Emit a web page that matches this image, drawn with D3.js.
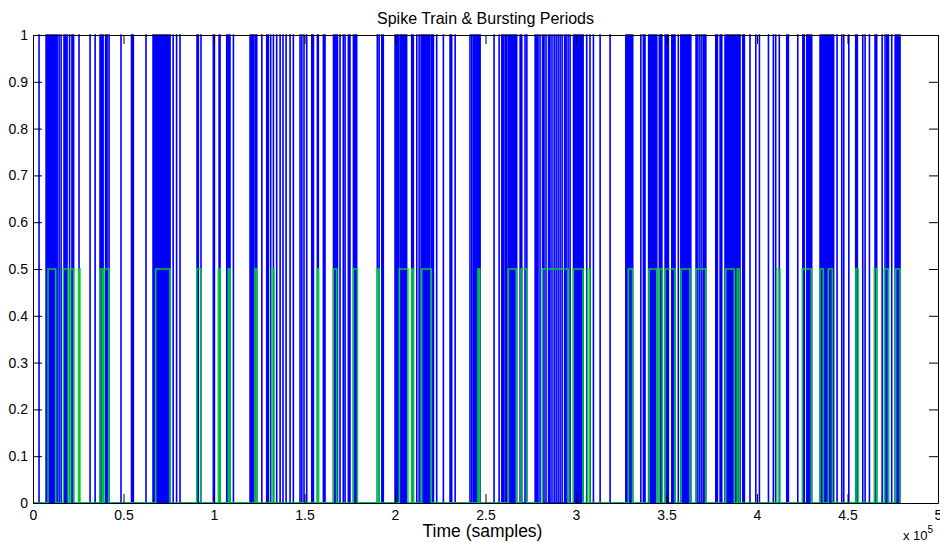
<!DOCTYPE html>
<html>
<head>
<meta charset="utf-8">
<script src="https://cdn.jsdelivr.net/npm/d3@7"></script>
<style>
  html, body { margin: 0; padding: 0; background: #fff; }
  svg { display: block; }
  text { font-family: "Liberation Sans", Arial, Helvetica, sans-serif; fill: #000; }
</style>
</head>
<body>
<svg id="chart" width="940" height="542"></svg>
<script>
// ---- data (time in samples) ----
const title = "Spike Train & Bursting Periods";
const xLabel = "Time (samples)";
const signalEnd = 479500;

const spikeTimes = [
  3300, 7200, 8000, 8800, 9400, 9900, 10500, 11300, 11900, 12400, 13300, 14400, 15500,
  17100, 18000, 18800, 20200, 21500, 22400, 25400, 31500, 34300, 37000, 37800, 38700,
  40100, 40900, 42000, 48600, 54400, 54900, 55400, 62400,
  66300, 66900, 67400, 68000, 68500, 69100, 69600, 70200, 70700, 71300, 71800, 72400,
  72900, 73500, 74000, 74600, 75100, 75700, 77400, 79300, 81200,
  90600, 91300, 92800, 99600, 100200, 102800, 103300, 107000, 107900, 108800, 110700,
  119900, 120800, 121700, 122700, 123600, 126400, 129100, 130000, 131300, 132800,
  134600, 136500, 138100, 139800, 142000, 143800, 147500, 148500, 149700, 151200,
  154000, 154900, 157100, 157600, 160400, 161300, 166000, 166600, 167100, 167700,
  168200, 169600, 171400, 172400, 174200, 175100, 177000, 177600, 178200, 178800,
  190200, 191200, 192700, 193500, 200000, 200600, 201100, 201800, 202800, 203300,
  203900, 204400, 205000, 205500, 206400, 209200, 210100, 212000, 213300, 214400,
  214900, 215500, 216000, 216600, 217100, 217700, 218400, 219300, 220300, 221200,
  223000, 226700, 230400, 231300, 233200, 241400, 242400, 243400, 243900, 244500,
  245000, 245600, 246100, 247000, 254700, 257500, 259000, 259800, 260800, 261700,
  262700, 263300, 263800, 264400, 264900, 265500, 266000, 266600, 267200, 269100,
  270000, 271800, 272800, 277400, 278300, 279000, 280100, 281500, 282300, 283400,
  284800, 285600, 286700, 287900, 289000, 290100, 291200, 292300, 293700, 294500,
  295600, 296700, 298600, 299200, 299700, 300300, 300800, 301400, 301900, 302500,
  303000, 303900, 305900, 307700, 309600, 313300, 318800,
  327500, 327900, 328500, 329000, 329600, 330100, 330700, 331300, 335800, 337200,
  338100, 340100, 340600, 341200, 341700, 342300, 342800, 343700, 344600, 346000,
  346700, 347400, 349200, 349700, 350300, 351000, 352900, 353800, 354700, 356500,
  357900, 358400, 359000, 359500, 360100, 360600, 361200, 361700, 362300, 362800,
  363400, 366300, 366900, 368000, 369100, 370200, 371000, 371700, 377200, 378100,
  379600, 380500, 382300, 382900, 383400, 384000, 384500, 385100, 385600, 386200,
  386800, 387300, 387900, 388800, 389700, 390600, 392100, 393000, 396100, 399300,
  401300, 406300, 409000, 410300, 412300, 416400, 417300, 422500, 425300, 426100,
  427500, 428400, 429300, 430200, 434800, 435600, 436500, 437300, 438100, 439000,
  439800, 440600, 441400, 442300, 444200, 446800, 447900, 450700, 454500, 455400,
  458400, 459700, 462100, 465200, 466100, 469100, 470700, 471700, 472600, 474400,
  476300, 476800, 477400, 477900, 478500, 479000
];

const burstStart = [
  8290, 16740, 20440, 25140, 37020, 39230, 67790, 90440, 102380, 107900, 122650, 131880,
  157070, 165910, 176960, 190220, 202380, 209220, 214750, 245860, 262600, 269610,
  281500, 298510, 306350, 328890, 340330, 346020, 349170, 358020, 366300, 382710,
  389120, 410880, 425030, 434810, 439390, 454700, 464810, 470330, 476630
];
const burstEnd = [
  12540, 19500, 22490, 25970, 38290, 41990, 75690, 92820, 103320, 108840, 123590, 133150,
  157740, 167790, 179280, 191160, 207180, 210220, 220060, 246800, 267020, 272930,
  295750, 303870, 307460, 331220, 344590, 347680, 354700, 362990, 371660, 387460,
  390230, 412710, 430000, 436640, 441600, 455970, 466140, 472540, 479010
];
const burstLevel = 0.5;

const xTicks = [0, 50000, 100000, 150000, 200000, 250000, 300000, 350000, 400000, 450000, 500000];
const xTickLabels = ["0", "0.5", "1", "1.5", "2", "2.5", "3", "3.5", "4", "4.5", "5"];
const yTicks = [0, 0.1, 0.2, 0.3, 0.4, 0.5, 0.6, 0.7, 0.8, 0.9, 1];
const yTickLabels = ["0", "0.1", "0.2", "0.3", "0.4", "0.5", "0.6", "0.7", "0.8", "0.9", "1"];

// ---- layout ----
const svg = d3.select("#chart");
const L = 33, R = 938, T = 35, B = 503;
const x = d3.scaleLinear().domain([0, 500000]).range([L, R]);
const y = d3.scaleLinear().domain([0, 1]).range([B, T]);

// spike train path (0 -> 1 -> 0 for each spike)
const spikePts = [[0, 0]];
spikeTimes.forEach(t => { spikePts.push([t, 0], [t, 1], [t + 60, 1], [t + 60, 0]); });
spikePts.push([signalEnd, 0]);

const burstPts = [[0, 0]];
burstStart.forEach((s, i) => {
  burstPts.push([s, 0], [s, burstLevel], [burstEnd[i], burstLevel], [burstEnd[i], 0]);
});
burstPts.push([signalEnd, 0]);

const line = d3.line().x(d => x(d[0])).y(d => y(d[1]));

const plot = svg.append("g");
plot.append("path").attr("d", line(spikePts))
  .attr("fill", "none").attr("stroke", "#0000ff").attr("stroke-width", 1.5);
plot.append("path").attr("d", line(burstPts))
  .attr("fill", "none").attr("stroke", "#00dd22").attr("stroke-width", 1.6)
  .attr("stroke-opacity", 0.9);

// ---- axes (MATLAB-style box, inward ticks) ----
const tickLen = 9;
const bottomAxis = d3.axisBottom(x).tickValues(xTicks)
  .tickFormat((d, i) => xTickLabels[i]).tickSizeInner(-tickLen).tickSizeOuter(0).tickPadding(7);
const topAxis = d3.axisTop(x).tickValues(xTicks).tickFormat("").tickSizeInner(-tickLen).tickSizeOuter(0);
const leftAxis = d3.axisLeft(y).tickValues(yTicks)
  .tickFormat((d, i) => yTickLabels[i]).tickSizeInner(-tickLen).tickSizeOuter(0).tickPadding(5);
const rightAxis = d3.axisRight(y).tickValues(yTicks).tickFormat("").tickSizeInner(-tickLen).tickSizeOuter(0);

function style(g) {
  g.selectAll("path.domain").attr("stroke", "#000").attr("stroke-width", 1);
  g.selectAll(".tick line").attr("stroke", "#000").attr("stroke-width", 1);
  g.selectAll(".tick text").style("font-family", "'Liberation Sans', Arial, sans-serif")
    .style("font-size", "14px").attr("fill", "#000");
}
svg.append("g").attr("transform", `translate(0,${B})`).call(bottomAxis).call(style);
svg.append("g").attr("transform", `translate(0,${T})`).call(topAxis).call(style);
svg.append("g").attr("transform", `translate(${L},0)`).call(leftAxis).call(style);
svg.append("g").attr("transform", `translate(${R},0)`).call(rightAxis).call(style);

// ---- text ----
svg.append("text").attr("x", (L + R) / 2).attr("y", 24).attr("text-anchor", "middle")
  .style("font-size", "16px").text(title);
svg.append("text").attr("x", (L + R) / 2 - 3).attr("y", 537).attr("text-anchor", "middle")
  .style("font-size", "17.5px").text(xLabel);
const mult = svg.append("text").attr("x", 903).attr("y", 540).style("font-size", "13px");
mult.append("tspan").text("x 10");
mult.append("tspan").attr("dy", -7).style("font-size", "10px").text("5");
</script>
</body>
</html>
